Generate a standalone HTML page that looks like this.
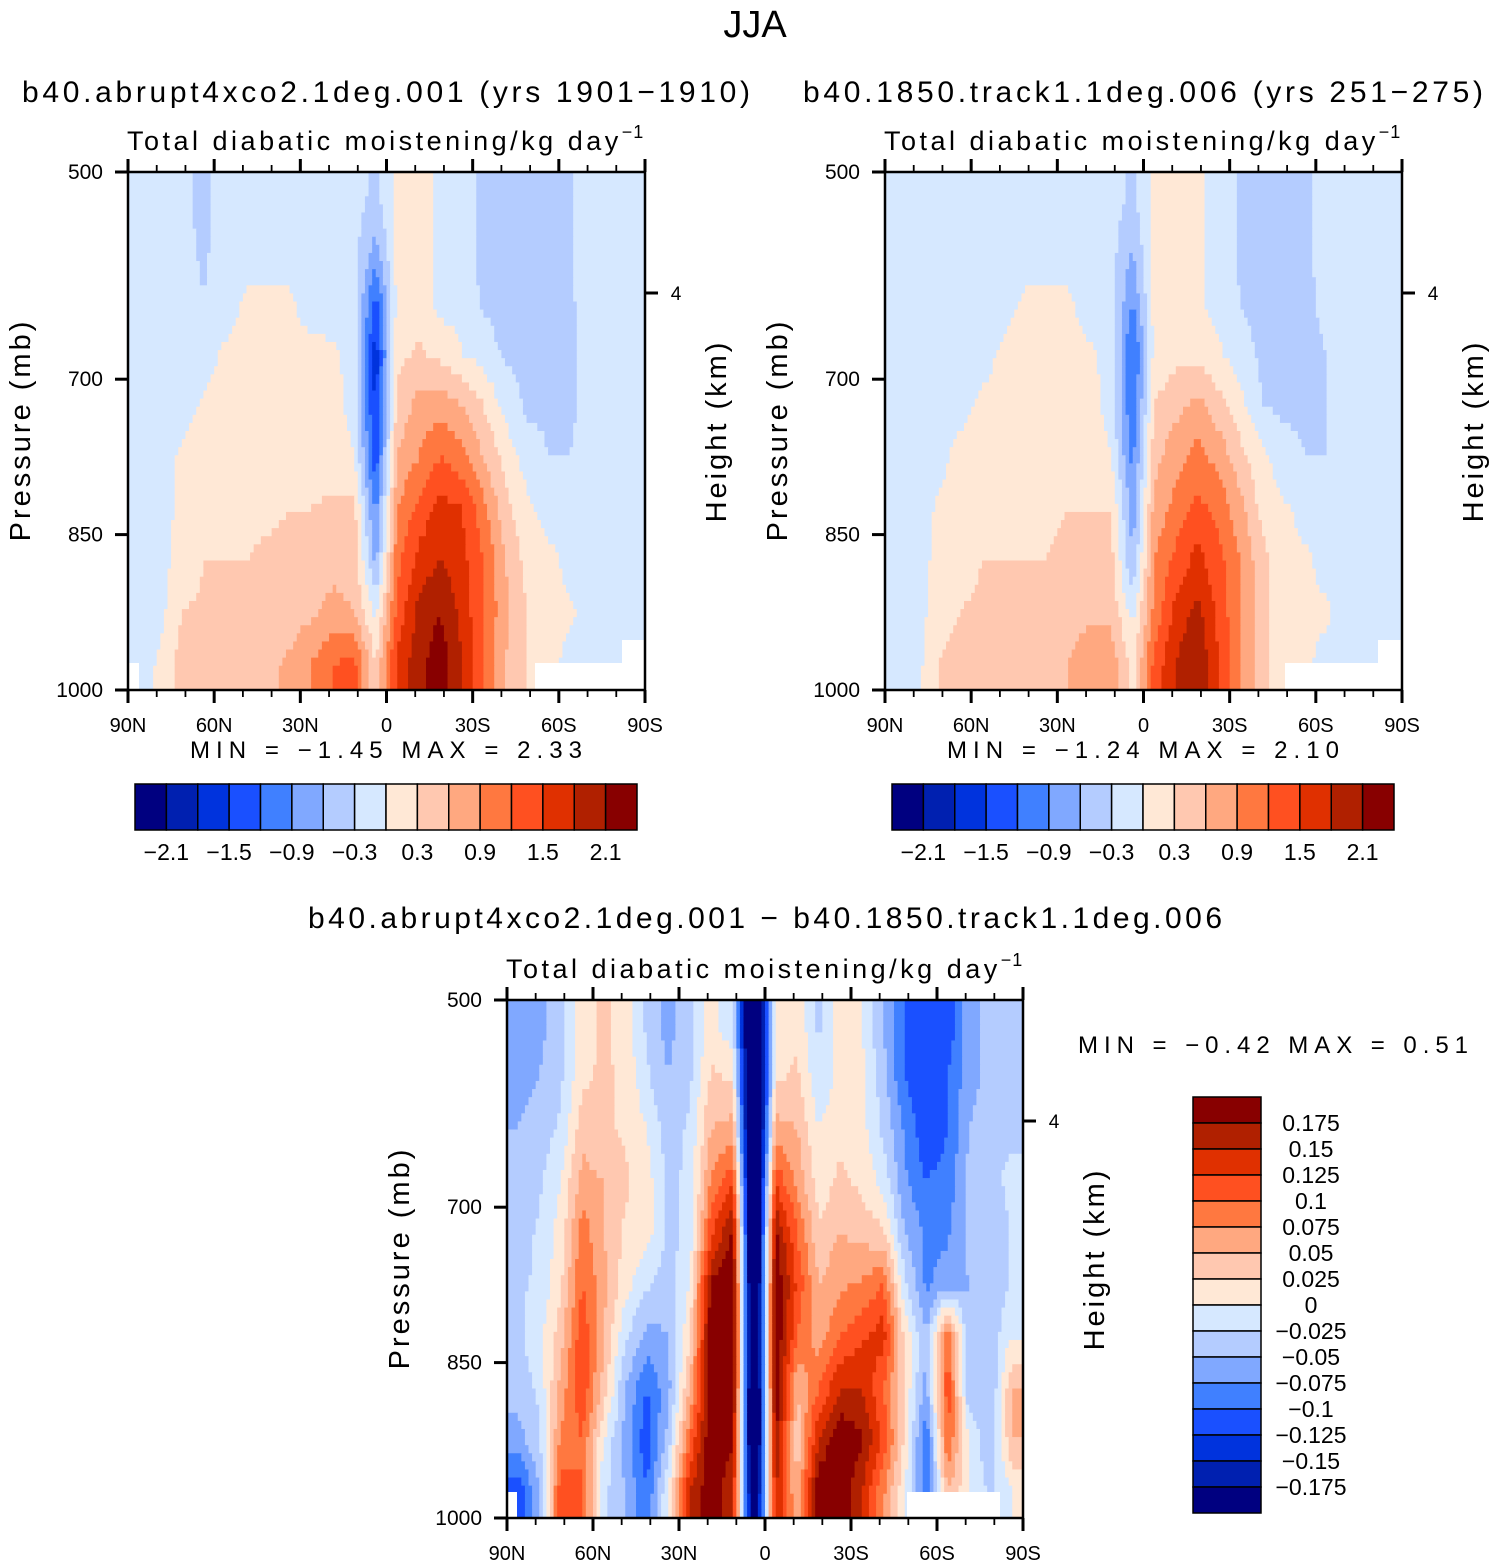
<!DOCTYPE html>
<html><head><meta charset="utf-8">
<style>
html,body{margin:0;padding:0;background:#fff;}
svg{display:block;font-family:"Liberation Sans",sans-serif;}
</style></head>
<body>
<svg id="fig" width="1494" height="1566" viewBox="0 0 1494 1566" xmlns="http://www.w3.org/2000/svg">
<text x="755" y="37" font-size="38" text-anchor="middle">JJA</text>
</svg>
<script>
// ---------- data ----------
const latCenters = [86,79,71,64,56,49,41,34,26,19,11,4,-4,-11,-19,-26,-34,-41,-49,-56,-64,-71,-79,-86];
const presCenters = [525,575,625,675,725,775,825,875,925,975];
const xTickLabels = ["90N","60N","30N","0","30S","60S","90S"];
const xTickLats = [90,60,30,0,-30,-60,-90];
const yTickPres = [500,700,850,1000];
const colorsLevels = ["#000080","#0020B0","#0033DD","#1A50FF","#4080FF","#80A8FF","#B4CCFF","#D6E8FF","#FFE8D6","#FFC8B0","#FFA880","#FF7840","#FF5020","#E03000","#B02000","#880000"];
const cbLabelsTop = ["−2.1","−1.5","−0.9","−0.3","0.3","0.9","1.5","2.1"];
const cbLabelsDiff = ["0.175","0.15","0.125","0.1","0.075","0.05","0.025","0","−0.025","−0.05","−0.075","−0.1","−0.125","−0.15","−0.175"];

const field1 = [
[-0.15,-0.15,-0.2,-0.4,-0.15,-0.15,-0.15,-0.15,-0.15,-0.15,-0.15,-0.4,0.1,0.15,-0.1,-0.1,-0.4,-0.45,-0.45,-0.45,-0.35,-0.1,-0.15,-0.1],
[-0.15,-0.15,-0.2,-0.35,-0.15,-0.15,-0.15,-0.15,-0.15,-0.15,-0.2,-0.7,0.1,0.15,-0.1,-0.1,-0.4,-0.45,-0.45,-0.45,-0.35,-0.1,-0.15,-0.1],
[-0.15,-0.15,-0.15,-0.3,-0.15,0.05,0.1,0.05,-0.15,-0.15,-0.2,-1.3,0.1,0.15,-0.1,-0.1,-0.35,-0.4,-0.45,-0.4,-0.35,-0.15,-0.15,-0.1],
[-0.15,-0.15,-0.15,-0.15,0.05,0.1,0.15,0.1,0.1,0.05,-0.1,-1.7,0.2,0.35,0.2,0.0,-0.15,-0.35,-0.4,-0.4,-0.35,-0.2,-0.15,-0.1],
[-0.15,-0.15,-0.15,0.05,0.15,0.15,0.15,0.15,0.15,0.1,-0.1,-1.6,0.4,0.7,0.8,0.6,0.3,-0.1,-0.35,-0.35,-0.35,-0.2,-0.15,-0.1],
[-0.15,-0.15,0.05,0.15,0.2,0.2,0.2,0.2,0.2,0.15,0.0,-1.4,0.6,0.9,1.2,1.0,0.6,0.2,-0.15,-0.3,-0.3,-0.2,-0.15,-0.1],
[-0.15,-0.15,0.1,0.2,0.25,0.25,0.25,0.3,0.3,0.35,0.4,-1.0,0.9,1.3,1.6,1.5,1.0,0.4,0.1,-0.15,-0.15,-0.15,-0.15,-0.1],
[-0.15,-0.1,0.1,0.3,0.3,0.3,0.35,0.35,0.4,0.5,0.5,-0.7,1.1,1.6,1.8,1.6,1.2,0.6,0.2,0.1,-0.1,-0.15,-0.15,-0.1],
[-0.15,-0.1,0.3,0.35,0.4,0.35,0.4,0.45,0.55,0.7,0.6,-0.1,1.3,1.9,2.1,1.7,1.2,0.7,0.3,0.1,0.05,-0.1,-0.15,-0.1],
[-0.15,0.05,0.45,0.5,0.5,0.45,0.55,0.65,0.9,1.2,1.3,0.3,1.6,2.0,2.3,1.8,1.2,0.6,0.3,0.1,-0.1,-0.1,-0.15,-0.1]
];
const field2 = [
[-0.15,-0.15,-0.15,-0.15,-0.15,-0.15,-0.15,-0.15,-0.15,-0.15,-0.2,-0.35,0.1,0.1,0.05,-0.15,-0.35,-0.4,-0.4,-0.35,-0.2,-0.15,-0.1,-0.1],
[-0.15,-0.15,-0.15,-0.15,-0.15,-0.15,-0.15,-0.15,-0.15,-0.15,-0.2,-0.6,0.1,0.1,0.05,-0.15,-0.35,-0.4,-0.4,-0.35,-0.2,-0.15,-0.1,-0.1],
[-0.15,-0.15,-0.15,-0.15,-0.15,-0.1,0.05,0.1,0.05,-0.15,-0.2,-0.9,0.1,0.1,0.05,-0.15,-0.3,-0.4,-0.4,-0.35,-0.25,-0.15,-0.1,-0.1],
[-0.15,-0.15,-0.15,-0.15,-0.1,0.05,0.1,0.1,0.1,0.05,-0.1,-1.3,0.1,0.2,0.2,0.05,-0.2,-0.35,-0.4,-0.35,-0.3,-0.2,-0.1,-0.1],
[-0.15,-0.15,-0.15,-0.1,0.05,0.1,0.1,0.1,0.1,0.1,-0.1,-1.2,0.3,0.5,0.7,0.4,0.1,-0.3,-0.35,-0.35,-0.3,-0.2,-0.15,-0.1],
[-0.15,-0.15,-0.1,0.1,0.15,0.15,0.15,0.15,0.15,0.15,0.0,-1.0,0.5,0.8,1.0,0.8,0.4,0.1,-0.2,-0.3,-0.3,-0.2,-0.15,-0.1],
[-0.15,-0.15,0.05,0.15,0.25,0.25,0.25,0.25,0.3,0.3,0.3,-0.8,0.7,1.0,1.3,1.1,0.7,0.2,0.05,-0.1,-0.2,-0.15,-0.15,-0.1],
[-0.15,-0.15,0.1,0.2,0.3,0.3,0.3,0.3,0.35,0.4,0.4,-0.6,0.9,1.3,1.6,1.3,0.9,0.4,0.1,0.05,-0.1,-0.15,-0.15,-0.1],
[-0.15,-0.15,0.2,0.3,0.35,0.3,0.35,0.35,0.45,0.55,0.5,-0.1,1.0,1.6,1.9,1.4,0.9,0.4,0.15,0.05,0.05,-0.15,-0.15,-0.1],
[-0.15,-0.1,0.3,0.4,0.45,0.4,0.45,0.5,0.6,0.8,0.8,0.2,1.3,1.8,2.1,1.5,0.9,0.4,0.15,0.05,-0.1,-0.15,-0.15,-0.1]
];
const field3 = [
[-0.06,-0.06,-0.03,0.01,0.03,0.01,-0.03,-0.06,-0.03,0.01,-0.02,-0.3,0.0,0.02,-0.03,0.01,0.0,-0.05,-0.1,-0.12,-0.12,-0.06,-0.04,-0.04],
[-0.06,-0.05,-0.03,0.02,0.03,0.02,-0.02,-0.05,-0.03,0.03,0.02,-0.3,0.02,0.03,-0.02,0.01,0.01,-0.04,-0.1,-0.12,-0.1,-0.06,-0.04,-0.03],
[-0.05,-0.04,-0.02,0.04,0.03,0.02,0.0,-0.04,-0.02,0.05,0.06,-0.3,0.06,0.05,0.0,0.02,0.01,-0.03,-0.08,-0.12,-0.1,-0.05,-0.03,-0.03],
[-0.05,-0.03,0.0,0.06,0.05,0.03,0.01,-0.03,-0.02,0.08,0.12,-0.3,0.12,0.07,0.01,0.03,0.02,-0.01,-0.07,-0.1,-0.09,-0.04,-0.03,-0.02],
[-0.04,-0.02,0.01,0.09,0.05,0.02,0.01,-0.03,-0.02,0.12,0.18,-0.3,0.18,0.1,0.03,0.05,0.04,0.03,-0.05,-0.08,-0.08,-0.04,-0.05,-0.02],
[-0.03,-0.02,0.02,0.1,0.06,0.01,-0.02,-0.04,0.0,0.18,0.2,-0.3,0.2,0.12,0.05,0.07,0.08,0.1,-0.02,-0.08,-0.06,-0.05,-0.05,-0.02],
[-0.03,-0.01,0.04,0.12,0.05,-0.02,-0.06,-0.05,0.02,0.2,0.2,-0.3,0.2,0.1,0.06,0.1,0.12,0.14,0.02,-0.05,0.1,-0.05,-0.04,0.0],
[-0.04,-0.02,0.06,0.12,0.04,-0.05,-0.1,-0.06,0.05,0.2,0.2,-0.3,0.2,0.05,0.1,0.15,0.15,0.1,0.02,-0.06,0.12,-0.05,-0.05,0.05],
[-0.06,-0.03,0.08,0.1,0.0,-0.06,-0.12,-0.04,0.1,0.2,0.18,-0.3,0.18,0.03,0.15,0.2,0.18,0.12,0.02,-0.1,0.1,0.0,-0.05,0.05],
[-0.12,-0.05,0.12,0.1,-0.02,-0.05,-0.1,0.0,0.15,0.2,0.15,-0.25,0.15,0.05,0.2,0.2,0.15,0.08,0.0,-0.1,0.05,0.0,-0.03,0.0]
];

// ---------- rendering ----------
const NS = "http://www.w3.org/2000/svg";
const svg = document.getElementById("fig");
function mk(tag, attrs, parent, txt) {
  const e = document.createElementNS(NS, tag);
  for (const k in attrs) e.setAttribute(k, attrs[k]);
  if (txt !== undefined) e.textContent = txt;
  (parent || svg).appendChild(e);
  return e;
}
function sampleField(field, lat, p) {
  let fx = (90 - lat) / 7.5 - 0.5, fy = (p - 500) / 50 - 0.5;
  fx = Math.max(0, Math.min(latCenters.length - 1, fx));
  fy = Math.max(0, Math.min(presCenters.length - 1, fy));
  const i0 = Math.floor(fx), j0 = Math.floor(fy);
  const i1 = Math.min(i0 + 1, latCenters.length - 1), j1 = Math.min(j0 + 1, presCenters.length - 1);
  const tx = fx - i0, ty = fy - j0;
  const a = field[j0][i0] * (1 - tx) + field[j0][i1] * tx;
  const b = field[j1][i0] * (1 - tx) + field[j1][i1] * tx;
  return a * (1 - ty) + b * ty;
}

function drawPanel(cfg) {
  const {x0, y0, w, h, field, lo, step, id} = cfg;
  const xScale = lat => x0 + (90 - lat) / 180 * w;
  const yScale = p => y0 + (p - 500) / 500 * h;
  const g = mk("g", {}, svg);
  
  
  const nx = 144, ny = 64;
  const cw = w / nx, ch = h / ny;
  for (let j = 0; j < ny; j++) {
    const p = 500 + (j + 0.5) * 500 / ny;
    let runStart = 0, runLevel = -1;
    for (let i = 0; i <= nx; i++) {
      let lev = -2;
      if (i < nx) {
        const lat = 90 - (i + 0.5) * 180 / nx;
        const v = sampleField(field, lat, p);
        lev = Math.max(0, Math.min(15, Math.floor((v - lo) / step + 1e-9)));
      }
      if (lev !== runLevel) {
        if (runLevel >= 0) {
          const r = mk("rect", {x: (x0 + runStart * cw).toFixed(2), y: (y0 + j * ch).toFixed(2),
            width: ((i - runStart) * cw + 0.6).toFixed(2), height: (ch + 0.6).toFixed(2), fill: colorsLevels[runLevel]}, g);
          
          
        }
        runStart = i; runLevel = lev;
      }
    }
  }
  (cfg.missing || []).forEach(m => {
    const r = mk("rect", {x: m[0], y: m[1], width: m[2], height: m[3], fill: "#fff"}, g);
    
    
  });
  const fr = mk("rect", {x: x0, y: y0, width: w, height: h, fill: "none", stroke: "#000", "stroke-width": 2.5}, svg);
  
  
  for (let lat = 90; lat >= -90; lat -= 10) {
    const major = lat % 30 === 0;
    const x = xScale(lat), L = major ? 13 : 7;
    mk("line", {x1: x, x2: x, y1: y0 + h, y2: y0 + h + L, stroke: "#000", "stroke-width": major ? 3 : 1.8});
    mk("line", {x1: x, x2: x, y1: y0, y2: y0 - L, stroke: "#000", "stroke-width": major ? 3 : 1.8});
  }
  xTickLabels.forEach((lab, k) => {
    const t = mk("text", {x: xScale(xTickLats[k]), y: y0 + h + 42, "font-size": 20, "text-anchor": "middle"}, svg, lab);
    
    
  });
  yTickPres.forEach(p => {
    const y = yScale(p);
    mk("line", {x1: x0 - 13, x2: x0, y1: y, y2: y, stroke: "#000", "stroke-width": 3});
    const t = mk("text", {x: x0 - 25, y: y + 7, "font-size": 21, "text-anchor": "end"}, svg, String(p));
    
    
  });
  const hy = y0 + 121;
  mk("line", {x1: x0 + w, x2: x0 + w + 13, y1: hy, y2: hy, stroke: "#000", "stroke-width": 3});
  const ht = mk("text", {x: x0 + w + 31, y: hy + 7, "font-size": 19, "text-anchor": "middle"}, svg, "4");
  
  
  const yt = mk("text", {x: 0, y: 0, "font-size": 29, "text-anchor": "middle", "letter-spacing": 3,
    transform: `translate(${x0 - 98},${y0 + h / 2 - 1}) rotate(-90)`}, svg, "Pressure (mb)");
  
  
  const rt = mk("text", {x: 0, y: 0, "font-size": 29, "text-anchor": "middle", "letter-spacing": 3,
    transform: `translate(${x0 + w + 81},${y0 + h / 2}) rotate(-90)`}, svg, "Height (km)");
  
  
  const st = mk("text", {x: x0 - 1, y: y0 - 22, "font-size": 27, "letter-spacing": 3.5}, svg);
  
  
  mk("tspan", {}, st, "Total diabatic moistening/kg day");
  mk("tspan", {"font-size": 18, dy: -12, "letter-spacing": 1}, st, "−1");
}

function hColorbar(x0, y0, w, h, id) {
  const g = mk("g", {}, svg);
  
  
  const bw = w / 16;
  colorsLevels.forEach((c, i) => {
    const r = mk("rect", {x: x0 + i * bw, y: y0, width: bw, height: h, fill: c, stroke: "#000", "stroke-width": 1.5}, g);
    
    
  });
  cbLabelsTop.forEach((lab, k) => {
    const t = mk("text", {x: x0 + (2 * k + 1) * bw, y: y0 + h + 30, "font-size": 23, "text-anchor": "middle"}, g, lab);
    
    
  });
}

function textFit(x, y, size, len, str, name, anchor) {
  const t = mk("text", {x: x, y: y, "font-size": size, textLength: len, lengthAdjust: "spacing", "text-anchor": anchor || "start"}, svg, str);
  
  
  return t;
}

textFit(22, 102, 30, 728, "b40.abrupt4xco2.1deg.001 (yrs 1901−1910)", "panel1-title");
drawPanel({x0: 128, y0: 172, w: 517, h: 518, field: field1, lo: -2.4, step: 0.3, id: "panel1",
  missing: [[535, 663, 87, 27], [622, 640, 23, 50], [129, 663, 10, 27]]});
textFit(190, 758, 24, 392, "MIN  =   −1.45   MAX  =    2.33", "panel1-min-max");
hColorbar(135, 784, 502, 46, "panel1-colorbar");

textFit(803, 102, 30, 680, "b40.1850.track1.1deg.006 (yrs 251−275)", "panel2-title");
drawPanel({x0: 885, y0: 172, w: 517, h: 518, field: field2, lo: -2.4, step: 0.3, id: "panel2",
  missing: [[1285, 663, 93, 27], [1378, 640, 24, 50]]});
textFit(947, 758, 24, 392, "MIN  =   −1.24   MAX  =    2.10", "panel2-min-max");
hColorbar(892, 784, 502, 46, "panel2-colorbar");

textFit(308, 928, 30, 914, "b40.abrupt4xco2.1deg.001 − b40.1850.track1.1deg.006", "diff-title");
drawPanel({x0: 507, y0: 1000, w: 516, h: 518, field: field3, lo: -0.2, step: 0.025, id: "diff-panel",
  missing: [[907, 1492, 93, 26], [508, 1492, 9, 26]]});
textFit(1078, 1053, 24, 390, "MIN  =   −0.42   MAX  =    0.51", "diff-min-max");

(function () {
  const x0 = 1193, y0 = 1097, w = 68, bh = 26;
  const g = mk("g", {}, svg);
  
  
  for (let i = 0; i < 16; i++) {
    const r = mk("rect", {x: x0, y: y0 + i * bh, width: w, height: bh, fill: colorsLevels[15 - i], stroke: "#000", "stroke-width": 1.5}, g);
    
    
  }
  cbLabelsDiff.forEach((lab, k) => {
    const t = mk("text", {x: 1311, y: y0 + (k + 1) * bh + 8, "font-size": 23, "text-anchor": "middle"}, g, lab);
    
    
  });
})();
</script>
</body></html>
